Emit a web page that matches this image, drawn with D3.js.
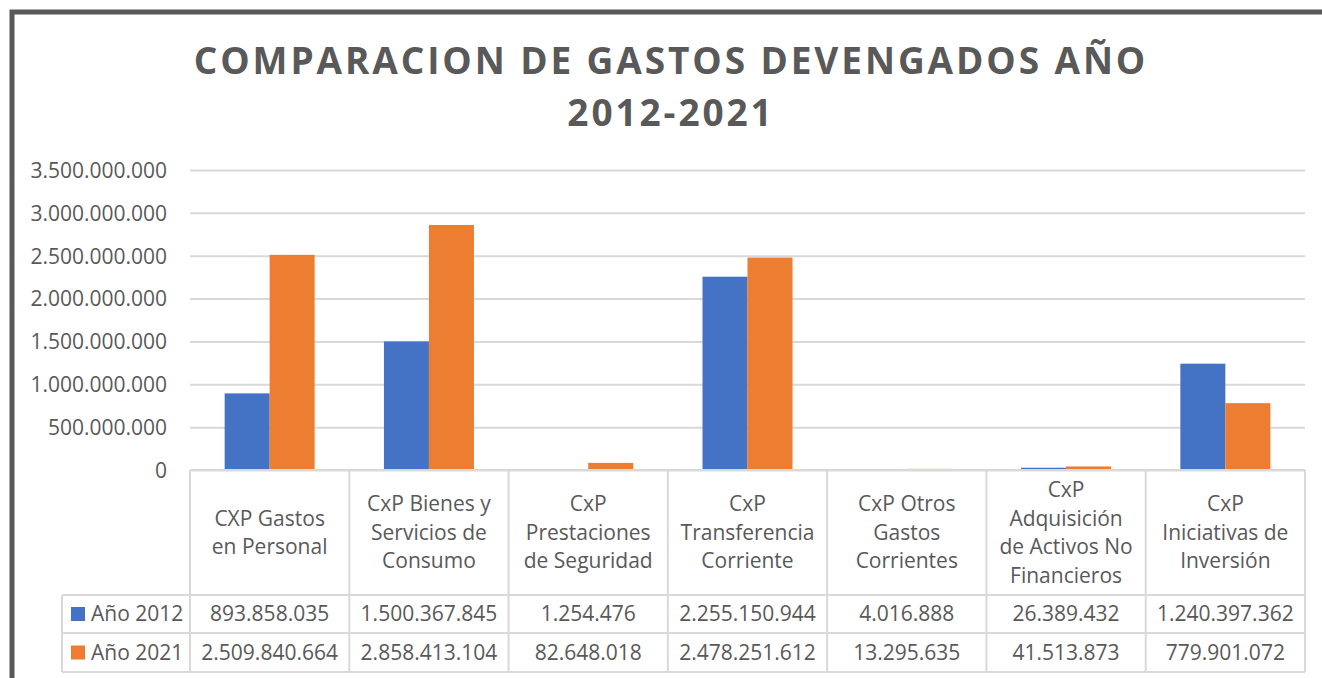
<!DOCTYPE html>
<html>
<head>
<meta charset="utf-8">
<title>Comparacion de gastos devengados</title>
<script src="https://d3js.org/d3.v7.min.js"></script>
<style>
  body { margin: 0; background: #fff; }
  svg { display: block; font-family: "Open Sans", sans-serif; }
  .tick text { fill: #595959; font-size: 21px; }
  .cell { fill: #595959; font-size: 21px; }
</style>
</head>
<body>
<svg id="chart" width="1322" height="678"></svg>
<script>
// chart data
const categories = [
  ["CXP Gastos", "en Personal"],
  ["CxP Bienes y", "Servicios de", "Consumo"],
  ["CxP", "Prestaciones", "de Seguridad"],
  ["CxP", "Transferencia", "Corriente"],
  ["CxP Otros", "Gastos", "Corrientes"],
  ["CxP", "Adquisición", "de Activos No", "Financieros"],
  ["CxP", "Iniciativas de", "Inversión"]
];
const seriesNames = ["Año 2012", "Año 2021"];
const values2012 = [893858035, 1500367845, 1254476, 2255150944, 4016888, 26389432, 1240397362];
const values2021 = [2509840664, 2858413104, 82648018, 2478251612, 13295635, 41513873, 779901072];
const yTicks = [0, 500000000, 1000000000, 1500000000, 2000000000, 2500000000, 3000000000, 3500000000];

const colors = ["#4472C4", "#ED7D31"];
const series = [values2012, values2021];

const loc = d3.formatLocale({decimal: ",", thousands: ".", grouping: [3], currency: ["$", ""]});
const fmt = loc.format(",d");

const svg = d3.select("#chart");
const plot = {left: 190, right: 1305, top: 170, bottom: 470};
const rowY = [470, 595, 633, 672];
const legendLeft = 62;

// frame
svg.append("rect")
  .attr("x", 12).attr("y", 12)
  .attr("width", 1340).attr("height", 700)
  .attr("fill", "none").attr("stroke", "#595959").attr("stroke-width", 5);

// title
const title = svg.append("text")
  .attr("text-anchor", "middle")
  .attr("fill", "#595959")
  .style("font-size", "37px").style("font-weight", "bold").style("letter-spacing", "2.9px");
title.append("tspan").attr("x", 671).attr("y", 74).text("COMPARACION DE GASTOS DEVENGADOS AÑO");
title.append("tspan").attr("x", 671).attr("y", 126).text("2012-2021");

const x = d3.scaleBand().domain(d3.range(categories.length)).range([plot.left, plot.right]);
const xs = d3.scaleBand().domain([0, 1]).range([0, 90]);
const y = d3.scaleLinear().domain([0, 3500000000]).range([plot.bottom, plot.top]);

// gridlines + y axis labels
svg.append("g")
  .attr("transform", `translate(${plot.left},0)`)
  .call(d3.axisLeft(y).tickValues(yTicks).tickFormat(fmt).tickSize(-(plot.right - plot.left)).tickPadding(23))
  .attr("font-family", null).attr("font-size", null)
  .call(g => g.select(".domain").remove())
  .call(g => g.selectAll(".tick line").attr("stroke", "#d9d9d9").attr("stroke-width", 2))
  .call(g => g.selectAll(".tick text").attr("dy", "0.35em"));

// bars
series.forEach((vals, s) => {
  svg.append("g").selectAll("rect")
    .data(vals)
    .join("rect")
    .attr("x", (d, i) => x(i) + (x.bandwidth() - 90) / 2 + xs(s))
    .attr("y", d => y(d))
    .attr("width", xs.bandwidth())
    .attr("height", d => y(0) - y(d))
    .attr("fill", colors[s]);
});

// data table
const grid = svg.append("g").attr("stroke", "#d9d9d9").attr("stroke-width", 2);
grid.append("line").attr("x1", plot.left).attr("x2", plot.right).attr("y1", rowY[0]).attr("y2", rowY[0]);
[rowY[1], rowY[2], rowY[3]].forEach(yy =>
  grid.append("line").attr("x1", legendLeft).attr("x2", plot.right).attr("y1", yy).attr("y2", yy));
d3.range(categories.length + 1).forEach(i => {
  const xx = i < categories.length ? x(i) : plot.right;
  grid.append("line").attr("x1", xx).attr("x2", xx).attr("y1", rowY[0]).attr("y2", rowY[3]);
});
grid.append("line").attr("x1", legendLeft).attr("x2", legendLeft).attr("y1", rowY[1]).attr("y2", rowY[3]);

// category labels
const lineH = 28.5;
categories.forEach((lines, i) => {
  const cy = (rowY[0] + rowY[1]) / 2 - (lines.length - 1) * lineH / 2;
  const t = svg.append("text").attr("class", "cell").attr("text-anchor", "middle");
  lines.forEach((ln, j) => {
    t.append("tspan").attr("x", x(i) + x.bandwidth() / 2).attr("y", cy + j * lineH).attr("dy", "0.35em").text(ln);
  });
});

// value rows with legend keys
series.forEach((vals, s) => {
  const cy = (rowY[s + 1] + rowY[s + 2]) / 2;
  svg.append("rect").attr("x", 71).attr("y", cy - 7).attr("width", 14).attr("height", 14).attr("fill", colors[s]);
  svg.append("text").attr("class", "cell").attr("x", 91).attr("y", cy).attr("dy", "0.35em").text(seriesNames[s]);
  svg.append("g").selectAll("text")
    .data(vals)
    .join("text")
    .attr("class", "cell")
    .attr("text-anchor", "middle")
    .attr("x", (d, i) => x(i) + x.bandwidth() / 2)
    .attr("y", cy)
    .attr("dy", "0.35em")
    .text(d => fmt(d));
});
</script>
</body>
</html>
